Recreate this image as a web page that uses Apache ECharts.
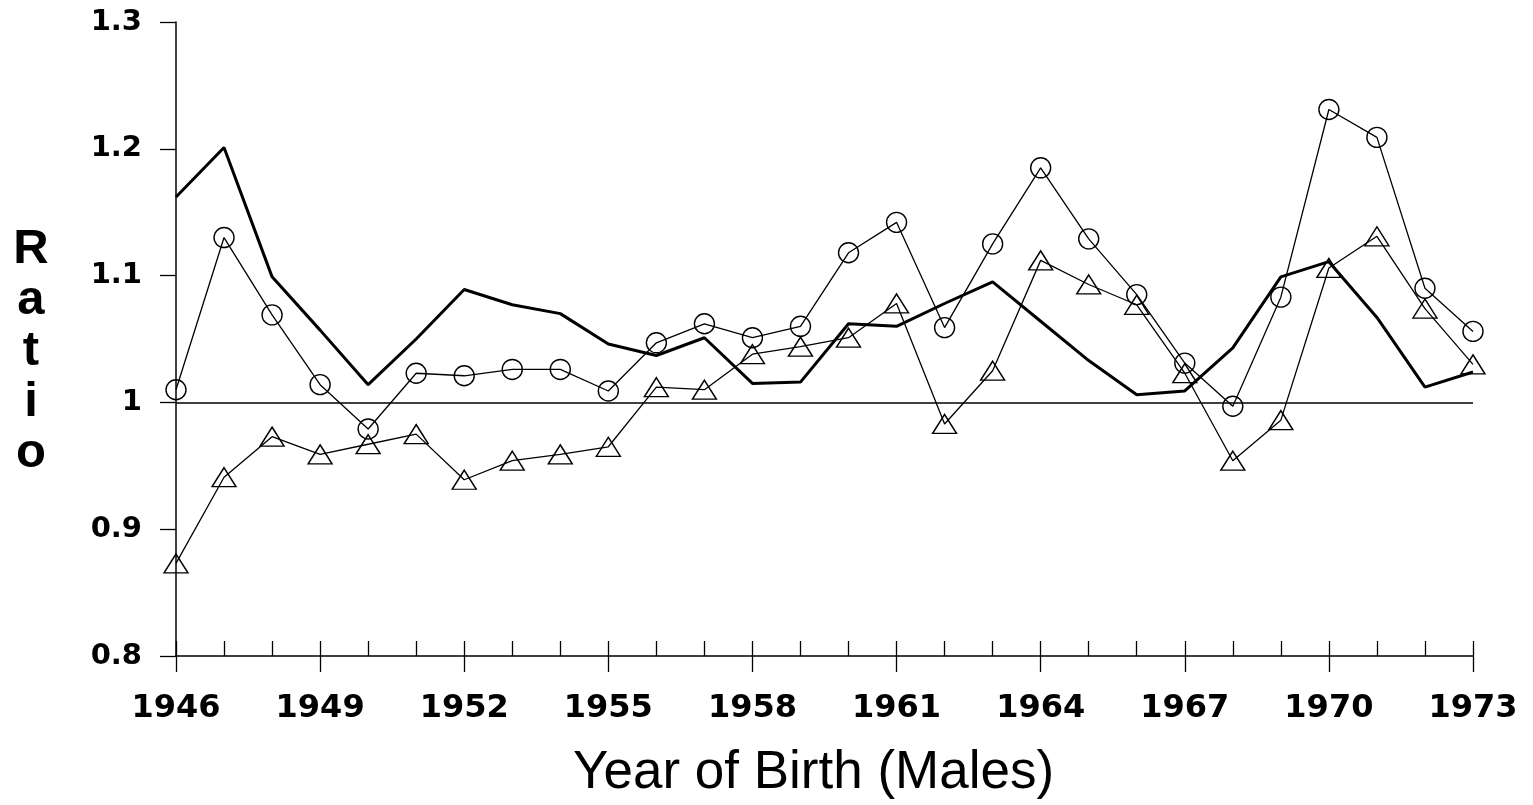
<!DOCTYPE html>
<html>
<head>
<meta charset="utf-8">
<script src="https://cdn.jsdelivr.net/npm/echarts@6/dist/echarts.min.js"></script>
<style>
  html, body { margin: 0; padding: 0; background: #fff; }
  #chart { width: 1533px; height: 805px; }
</style>
</head>
<body>
<div id="chart"></div>
<script>
// years on the x axis
const years = [];
for (let y = 1946; y <= 1973; y++) years.push(String(y));

// thick line, no markers
const ratioLine = [1.162, 1.201, 1.099, 1.057, 1.014, 1.050, 1.089, 1.077, 1.070, 1.046,
  1.037, 1.051, 1.015, 1.016, 1.062, 1.060, 1.078, 1.095, 1.064, 1.033,
  1.006, 1.009, 1.043, 1.099, 1.111, 1.067, 1.012, 1.024];

// circles
const ratioCircle = [1.010, 1.130, 1.069, 1.014, 0.979, 1.023, 1.021, 1.026, 1.026, 1.009,
  1.047, 1.062, 1.051, 1.060, 1.118, 1.142, 1.059, 1.125, 1.185, 1.129,
  1.085, 1.031, 0.997, 1.083, 1.231, 1.209, 1.090, 1.056];

// triangles
const ratioTriangle = [0.873, 0.941, 0.973, 0.959, 0.967, 0.975, 0.939, 0.954, 0.959, 0.965,
  1.012, 1.010, 1.038, 1.044, 1.051, 1.078, 0.983, 1.025, 1.112, 1.093,
  1.077, 1.023, 0.954, 0.986, 1.106, 1.131, 1.074, 1.030];

const yTicks = [0.8, 0.9, 1, 1.1, 1.2, 1.3];

const tickFont = "'DejaVu Sans', sans-serif";
const titleFont = "'Liberation Sans', Arial, sans-serif";
const chart = echarts.init(document.getElementById("chart"));

const hollow = {
  color: "rgba(0,0,0,0)",
  borderColor: "#000",
  borderWidth: 1.4,
};

chart.setOption({
  animation: false,
  backgroundColor: "#fff",
  grid: { left: 176, right: 60, top: 22, bottom: 147 },
  xAxis: [
    {
      type: "category",
      data: years,
      boundaryGap: false,
      name: "Year of Birth (Males)",
      nameLocation: "middle",
      nameGap: 91,
      nameTextStyle: {
        fontFamily: titleFont,
        fontSize: 53,
        color: "#000",
        padding: [0, 22, 0, 0],
      },
      axisLine: { lineStyle: { color: "#000", width: 1.5 } },
      axisTick: { inside: true, length: 15, interval: 0, lineStyle: { color: "#000", width: 1.3 } },
      axisLabel: {
        interval: 2,
        margin: 37,
        fontFamily: tickFont,
        fontSize: 32,
        fontWeight: "bold",
        color: "#000",
      },
      splitLine: { show: false },
    },
    {
      // longer ticks below the axis every three years
      type: "category",
      data: years,
      boundaryGap: false,
      position: "bottom",
      axisLine: { show: false },
      axisTick: { inside: false, length: 16, interval: 2, lineStyle: { color: "#000", width: 1.3 } },
      axisLabel: { show: false },
      splitLine: { show: false },
    },
  ],
  yAxis: {
    type: "value",
    min: 0.8,
    max: 1.3,
    interval: 0.1,
    // empty first line pushes the stacked letters a little lower
    name: "{gap|}\nR\na\nt\ni\no",
    nameLocation: "middle",
    nameRotate: 0,
    nameGap: 145,
    nameTextStyle: {
      fontFamily: titleFont,
      fontSize: 49,
      fontWeight: "bold",
      color: "#000",
      lineHeight: 51,
      align: "center",
      rich: {
        gap: { lineHeight: 24, fontSize: 10 },
      },
    },
    axisLine: { show: true, lineStyle: { color: "#000", width: 1.5 } },
    axisTick: { show: true, length: 16, lineStyle: { color: "#000", width: 1.3 } },
    axisLabel: {
      margin: 34,
      fontFamily: tickFont,
      fontSize: 29,
      fontWeight: "bold",
      color: "#000",
      formatter: (v) => {
        const t = yTicks.find((k) => Math.abs(k - v) < 1e-6);
        return t === undefined ? "" : String(t);
      },
    },
    splitLine: { show: false },
  },
  series: [
    {
      name: "line",
      type: "line",
      data: ratioLine,
      showSymbol: false,
      symbol: "none",
      lineStyle: { color: "#000", width: 3 },
      markLine: {
        silent: true,
        symbol: "none",
        label: { show: false },
        lineStyle: { color: "#000", width: 1.5, type: "solid" },
        data: [{ yAxis: 1 }],
      },
      z: 3,
    },
    {
      name: "circle",
      type: "line",
      data: ratioCircle,
      symbol: "circle",
      symbolSize: 20,
      itemStyle: hollow,
      lineStyle: { color: "#000", width: 1.3 },
      z: 4,
    },
    {
      name: "triangle",
      type: "line",
      data: ratioTriangle,
      symbol: "triangle",
      symbolSize: [24, 19],
      itemStyle: hollow,
      lineStyle: { color: "#000", width: 1.3 },
      z: 4,
    },
  ],
});
</script>
</body>
</html>
